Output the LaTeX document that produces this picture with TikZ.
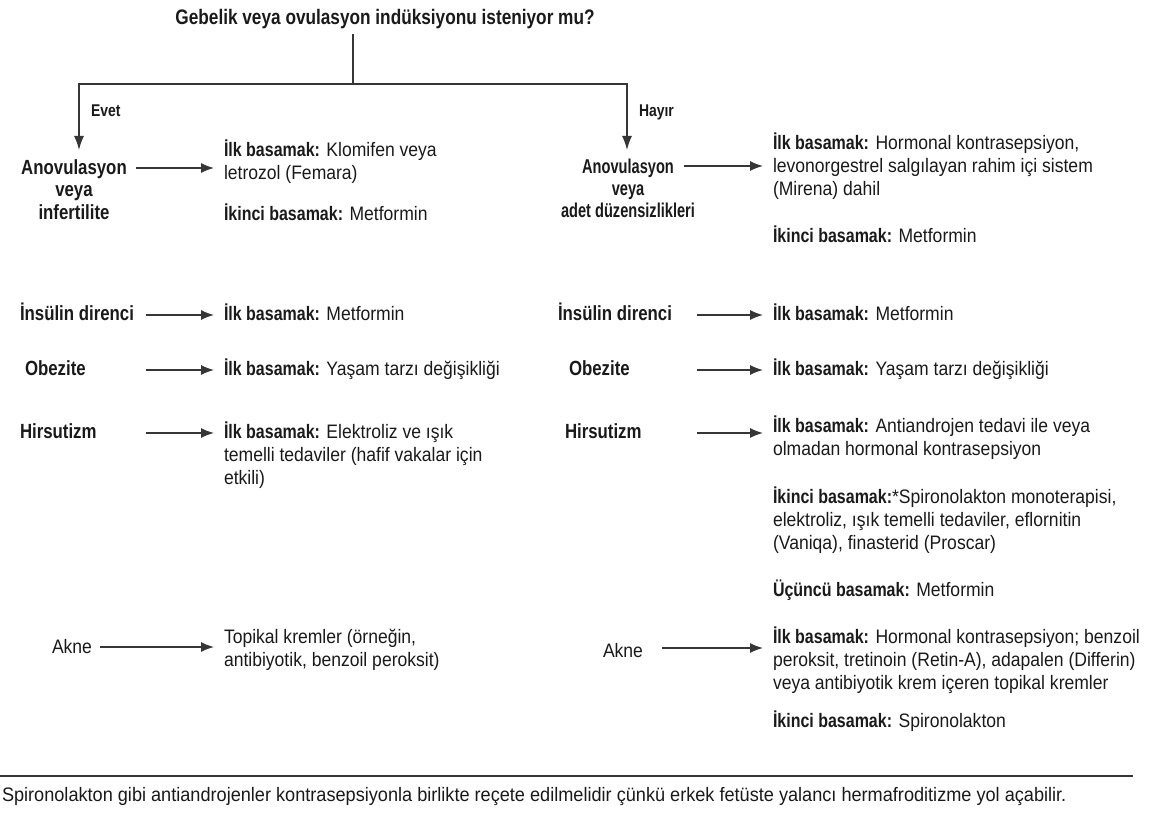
\documentclass[tikz,border=0pt]{standalone}
\usepackage{fontspec}
\setmainfont{Liberation Sans}[FakeStretch=0.90]
\newfontfamily\bfam{Liberation Sans Bold}[FakeStretch=0.82]
\newfontfamily\bfamn{Liberation Sans Bold}[FakeStretch=0.73]
\newfontfamily\ffam{Liberation Sans}[FakeStretch=0.93]
\newcommand\B[1]{{\bfam #1}}
\usetikzlibrary{arrows.meta}
\definecolor{tx}{HTML}{1A1A1A}
\definecolor{ln}{HTML}{363636}
\newcommand\st{\rule{0pt}{19pt}}
\tikzset{
  body/.style={inner sep=0pt, outer sep=0pt, text=tx, font=\fontsize{19.5}{23}\selectfont},
  txt/.style={body, align=left, anchor=north west},
  one/.style={body, anchor=base west},
  lab/.style={body, font=\fontsize{20.5}{22}\selectfont\bfam, anchor=base west},
  mlab/.style={body, font=\fontsize{20.5}{22}\selectfont\bfam, align=center, anchor=north},
  small/.style={body, font=\fontsize{17}{18}\selectfont\bfam, anchor=base west},
  arr/.style={draw=ln, line width=1.4pt, -{Latex[length=13pt,width=10pt]}, shorten >=10pt},
  darr/.style={draw=ln, line width=1.4pt, -{Latex[length=14pt,width=10pt]}},
  ln/.style={draw=ln, line width=1.4pt},
}
\begin{document}
\begin{tikzpicture}[x=1pt,y=-1pt]
\useasboundingbox[fill=white] (0,0) rectangle (1151,813);

% title and split
\node[body, font=\fontsize{21}{22}\selectfont\bfam, anchor=base] (title) at (385,25) {Gebelik veya ovulasyon indüksiyonu isteniyor mu?};
\coordinate (top) at (353,34);
\coordinate (split) at (353,84);
\coordinate (dL) at (79,150);
\coordinate (dR) at (627,150);
\draw[ln] (top) -- (split);
\draw[darr] (split) -| (dL);
\draw[darr] (split) -| (dR);
\node[small] (evet) at (91,117) {Evet};
\node[small] (hayir) at (639,117) {Hayır};

% ---------- left column ----------
\node[mlab] (lanov) at (74,156) {\st Anovulasyon\\veya\\infertilite};
\node[txt] (tl1) at (224,138) {\st\B{İlk basamak:} Klomifen veya\\letrozol (Femara)};
\node[one] (tl1b) at (224,221) {\B{İkinci basamak:} Metformin};

\node[lab] (lins) at (20,320) {İnsülin direnci};
\node[one] (tl2) at (224,320) {\B{İlk basamak:} Metformin};

\node[lab] (lobe) at (25,375) {Obezite};
\node[one] (tl3) at (224,375) {\B{İlk basamak:} Yaşam tarzı değişikliği};

\node[lab] (lhir) at (20,438) {Hirsutizm};
\node[txt] (tl4) at (224,419) {\st\B{İlk basamak:} Elektroliz ve ışık\\temelli tedaviler (hafif vakalar için\\etkili)};

\node[one] (lakne) at (52,653) {Akne};
\node[txt] (tl5) at (224,624) {\st Topikal kremler (örneğin,\\antibiyotik, benzoil peroksit)};

% ---------- right column ----------
\node[mlab, font=\fontsize{20}{22}\selectfont\bfamn] (ranov) at (628,155) {\st Anovulasyon\\veya\\adet düzensizlikleri};
\node[txt] (tr1) at (773,131) {\st\B{İlk basamak:} Hormonal kontrasepsiyon,\\levonorgestrel salgılayan rahim içi sistem\\(Mirena) dahil};
\node[one] (tr1b) at (773,242) {\B{İkinci basamak:} Metformin};

\node[lab] (rins) at (558,320) {İnsülin direnci};
\node[one] (tr2) at (773,320) {\B{İlk basamak:} Metformin};

\node[lab] (robe) at (569,375) {Obezite};
\node[one] (tr3) at (773,375) {\B{İlk basamak:} Yaşam tarzı değişikliği};

\node[lab] (rhir) at (565,438) {Hirsutizm};
\node[txt] (tr4) at (773,413) {\st\B{İlk basamak:} Antiandrojen tedavi ile veya\\olmadan hormonal kontrasepsiyon};
\node[txt] (tr4b) at (773,484) {\st\B{İkinci basamak:}*Spironolakton monoterapisi,\\elektroliz, ışık temelli tedaviler, eflornitin\\(Vaniqa), finasterid (Proscar)};
\node[one] (tr4c) at (773,596) {\B{Üçüncü basamak:} Metformin};

\node[one] (rakne) at (603,657) {Akne};
\node[txt] (tr5) at (773,624) {\st\B{İlk basamak:} Hormonal kontrasepsiyon; benzoil\\peroksit, tretinoin (Retin-A), adapalen (Differin)\\veya antibiyotik krem içeren topikal kremler};
\node[one] (tr5b) at (773,727) {\B{İkinci basamak:} Spironolakton};

% ---------- arrows ----------
\coordinate (aL1) at (136,168);
\coordinate (aL2) at (146,315);
\coordinate (aL3) at (146,370);
\coordinate (aL4) at (146,433);
\coordinate (aL5) at (100,647);
\coordinate (aR1) at (684,166);
\coordinate (aR2) at (697,315);
\coordinate (aR3) at (697,370);
\coordinate (aR4) at (697,433);
\coordinate (aR5) at (662,648);
\draw[arr] (aL1) -- (aL1 -| tl1.west);
\draw[arr] (aL2) -- (aL2 -| tl2.west);
\draw[arr] (aL3) -- (aL3 -| tl3.west);
\draw[arr] (aL4) -- (aL4 -| tl4.west);
\draw[arr] (aL5) -- (aL5 -| tl5.west);
\draw[arr] (aR1) -- (aR1 -| tr1.west);
\draw[arr] (aR2) -- (aR2 -| tr2.west);
\draw[arr] (aR3) -- (aR3 -| tr3.west);
\draw[arr] (aR4) -- (aR4 -| tr4.west);
\draw[arr] (aR5) -- (aR5 -| tr5.west);

% ---------- footnote ----------
\draw[ln] (0,776) -- (1133,776);
\node[one, font=\fontsize{19.5}{23}\selectfont\ffam] (foot) at (2,801) {Spironolakton gibi antiandrojenler kontrasepsiyonla birlikte reçete edilmelidir çünkü erkek fetüste yalancı hermafroditizme yol açabilir.};
\end{tikzpicture}
\end{document}
